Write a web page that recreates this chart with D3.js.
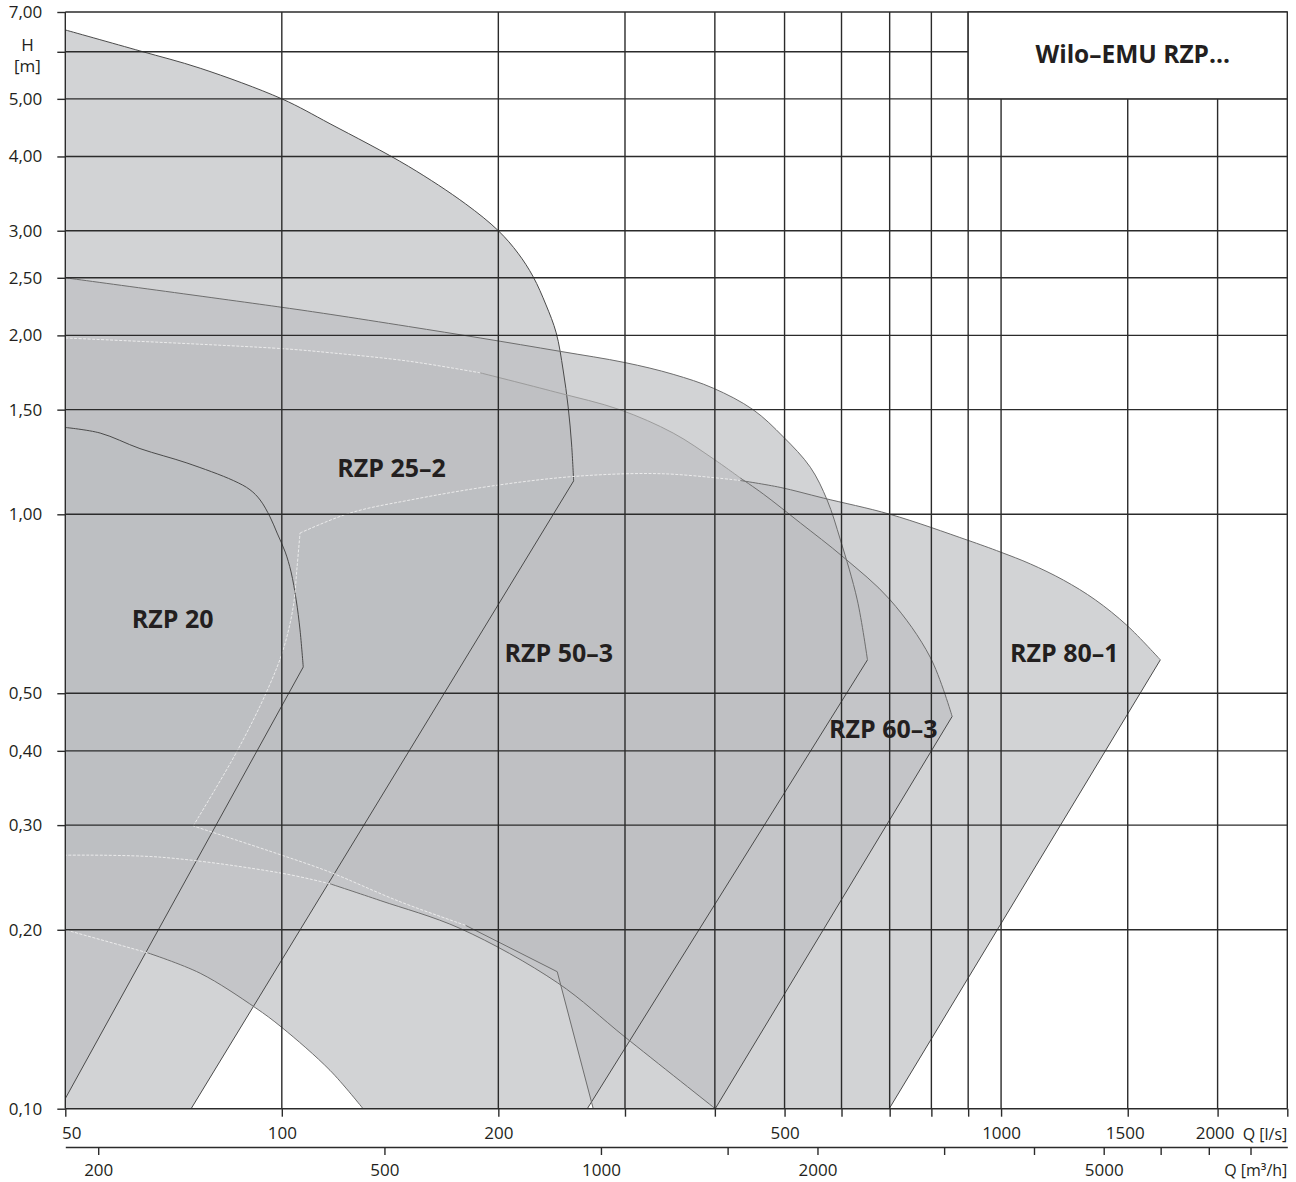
<!DOCTYPE html>
<html><head><meta charset="utf-8">
<script src="https://cdn.jsdelivr.net/npm/d3@7"></script>
<style>
body{margin:0;background:#fff}
svg text{font-family:"Open Sans",sans-serif;fill:#231f20}
</style>
</head><body>
<svg id="chart" width="1296" height="1182"></svg>
<script>
// ---------- data ----------
const qGrid = [50,100,200,300,400,500,600,700,800,900,1000,1500,2000,2500];
const qLabels = [50,100,200,500,1000,1500,2000];
const hGrid = [0.1,0.2,0.3,0.4,0.5,1.0,1.5,2.0,2.5,3.0,4.0,5.0,6.0,7.0];
const hLabels = [0.1,0.2,0.3,0.4,0.5,1.0,1.5,2.0,2.5,3.0,4.0,5.0,7.0];
const m3hTicks = [200,500,1000,1500,2000,3000,4000,5000,6000,7000,8000];
const m3hLabels = [200,500,1000,2000,5000];

// RZP 20  [Q l/s, H m]
const rzp20Top = [[50,1.40],[55.9,1.37],[63.5,1.29],[73.8,1.22],[85.6,1.14],[90.3,1.10],[93.3,1.057],[96.3,0.99],[98.5,0.93],[101.1,0.864],[103.0,0.800],[104.7,0.718],[106.0,0.639],[107.1,0.5535]];
const rzp20Right = [[107.1,0.5535],[50,0.104]];

// RZP 25-2
const rzp252Top = [[50,6.53],[63.5,6.02],[77,5.63],[100,5.0],[116.7,4.54],[150,3.85],[180,3.33],[200,3.0],[213,2.75],[223.6,2.51],[233,2.25],[240.7,2.02],[246.1,1.749],[250.1,1.516],[252.9,1.308],[254.5,1.138]];
const rzp252Right = [[254.5,1.138],[74.8,0.1]];
const rzp252Base = [[74.8,0.1],[50,0.1]];

// RZP 50-3
const rzp503Top = [[50,2.50],[100,2.23],[116.7,2.17],[150,2.07],[188.7,1.98],[243.8,1.88],[300,1.80],[350,1.72],[398,1.63],[452,1.50],[498,1.35],[543,1.20],[573,1.057],[598,0.905],[631,0.718],[652,0.569]];
const rzp503Right = [[652,0.569],[265.9,0.1]];
const rzp503Base = [[265.9,0.1],[129.7,0.1]];
const rzp503Bottom = [[129.7,0.1],[116.7,0.116],[100,0.137],[91.8,0.148],[77,0.169],[65,0.183],[50,0.200]];

// RZP 60-3
const rzp603Top = [[50,1.98],[100,1.90],[116.7,1.87],[150,1.81],[188.7,1.73],[240,1.606],[295,1.50],[350,1.37],[398,1.24],[434,1.151],[467,1.082],[526,0.967],[603,0.848],[701,0.718],[797,0.575],[855,0.457]];
const rzp603Right = [[855,0.457],[400.5,0.1]];
const rzp603Bottom = [[400.5,0.1],[300,0.132],[241.5,0.163],[177,0.201],[137,0.224],[116.7,0.239],[100,0.249],[67.7,0.265],[50,0.267]];

// RZP 80-1
const rzp801Top = [[106,0.93],[124.4,1.005],[150.8,1.057],[200,1.12],[260,1.16],[339,1.17],[434,1.14],[493,1.11],[566,1.065],[701,1.0],[897.5,0.905],[998,0.864],[1098.6,0.825],[1221,0.775],[1352,0.718],[1499,0.649],[1665,0.569]];
const rzp801Right = [[1665,0.569],[699,0.1]];
const rzp801Base = [[699,0.1],[271,0.1]];
const rzp801Steep = [[271,0.1],[241.5,0.170]];
const rzp801Bottom = [[241.5,0.170],[180,0.2035],[146,0.223],[116.7,0.250],[100,0.267],[75.3,0.299]];
const rzp801Left = [[75.3,0.299],[86.7,0.40],[95.4,0.505],[100.4,0.591],[103.7,0.698],[105,0.815],[106,0.93]];

const pumpNames = ["RZP 20","RZP 25–2","RZP 50–3","RZP 60–3","RZP 80–1"];
const pumpLabelQ = [70.5,142.1,242.7,686,1224.6];
const pumpLabelH = [0.669,1.199,0.5855,0.4371,0.5855];
const title = "Wilo–EMU RZP...";

// ---------- scales ----------
const L = 65.3, R = 1287.3, T = 12, B = 1108.7;
const x = d3.scaleLog().domain([50,2500]).range([L,R]);
const y = d3.scaleLog().domain([0.1,7]).range([B,T]);
const x2 = d3.scaleLog().domain([50*3.6,2500*3.6]).range([L,R]);

const svg = d3.select("#chart");
const gridColor = "#2b2b2b";

svg.append("defs").append("clipPath").attr("id","plot")
  .append("rect").attr("x",L).attr("y",T).attr("width",R-L).attr("height",B-T);

function pathFor(segments){
  let d = "";
  segments.forEach((seg,i)=>{
    const gen = d3.line().x(p=>x(p[0])).y(p=>y(p[1]))
      .curve(seg[1] ? d3.curveCatmullRom.alpha(0.5) : d3.curveLinear);
    let s = gen(seg[0]);
    if(i>0) s = "L" + s.slice(1);
    d += s;
  });
  return d;
}

const shapes = [
  [[rzp20Top,true],[rzp20Right,false]],
  [[rzp252Top,true],[rzp252Right,false],[rzp252Base,false]],
  [[rzp503Top,true],[rzp503Right,false],[rzp503Base,false],[rzp503Bottom,true]],
  [[rzp603Top,true],[rzp603Right,false],[rzp603Bottom,true]],
  [[rzp801Top,true],[rzp801Right,false],[rzp801Base,false],[rzp801Steep,false],[rzp801Bottom,true],[rzp801Left,true]]
];

const gFill = svg.append("g").attr("clip-path","url(#plot)");
shapes.forEach(s=>{
  gFill.append("path").attr("d",pathFor(s)+"Z")
    .attr("fill","rgb(189,190,193)").attr("fill-opacity",0.68).attr("stroke","none");
});

// outlines
const strokeStyles = {
  dark:{c:"#4a4a4a",w:1,dash:null,o:1},
  mid:{c:"#6e6e6e",w:1,dash:null,o:1},
  soft:{c:"#9c9c9c",w:1,dash:null,o:1},
  light:{c:"#f2f2f2",w:1,dash:"3,1.5",o:0.85}
};
const strokeEdges = [
  [rzp20Top,true,"dark"],[rzp20Right,false,"dark"],
  [rzp252Top,true,"dark"],[rzp252Right,false,"dark"],
  [rzp503Top,true,"mid"],[rzp503Right,false,"dark"],
  [rzp503Bottom.slice(0,6),true,"mid"],[rzp503Bottom.slice(5),true,"light"],
  [rzp603Top.slice(0,5),true,"light"],[rzp603Top.slice(4,10),true,"soft"],[rzp603Top.slice(9),true,"mid"],
  [rzp603Right,false,"dark"],
  [rzp603Bottom.slice(0,6),true,"mid"],[rzp603Bottom.slice(5),true,"light"],
  [rzp801Top.slice(0,7),true,"light"],[rzp801Top.slice(6),true,"mid"],
  [rzp801Right,false,"dark"],[rzp801Steep,false,"mid"],
  [rzp801Bottom.slice(0,2),true,"mid"],[rzp801Bottom.slice(1),true,"light"],
  [rzp801Left,true,"light"]
];
const gStroke = svg.append("g").attr("clip-path","url(#plot)").attr("fill","none");
strokeEdges.forEach(e=>{
  const st = strokeStyles[e[2]];
  const p = gStroke.append("path").attr("d",pathFor([[e[0],e[1]]]))
    .attr("stroke",st.c).attr("stroke-width",st.w).attr("stroke-opacity",st.o);
  if(st.dash) p.attr("stroke-dasharray",st.dash);
});

// grid
const gGrid = svg.append("g").attr("stroke",gridColor).attr("stroke-width",1.4);
qGrid.forEach(q=>{
  gGrid.append("line").attr("x1",x(q)).attr("x2",x(q)).attr("y1",T).attr("y2",B);
});
hGrid.forEach(h=>{
  gGrid.append("line").attr("x1",L).attr("x2",R).attr("y1",y(h)).attr("y2",y(h));
});

// title box
const bx0 = x(900), by1 = y(5);
svg.append("rect").attr("x",bx0).attr("y",T).attr("width",R-bx0).attr("height",by1-T)
  .attr("fill","#fff").attr("stroke",gridColor).attr("stroke-width",1.4);
svg.append("text").attr("x",(bx0+R)/2+5).attr("y",(T+by1)/2-2)
  .attr("text-anchor","middle").attr("dominant-baseline","central")
  .attr("font-size",24.5).attr("font-weight",700).text(title);

// y axis
const fmtH = d=> hLabels.includes(d) ? d3.format(".2f")(d).replace(".",",") : "";
const yAx = svg.append("g").attr("transform",`translate(${L},0)`)
  .call(d3.axisLeft(y).tickValues(hGrid).tickSize(8).tickPadding(15).tickFormat(fmtH));
yAx.select(".domain").remove();
yAx.selectAll("line").attr("stroke",gridColor).attr("stroke-width",1.4);
yAx.selectAll("text").attr("font-size",17).attr("fill","#231f20").style("font-family","'Open Sans',sans-serif");

svg.append("text").attr("x",27.5).attr("y",44).attr("text-anchor","middle").attr("dominant-baseline","central").attr("font-size",17).text("H");
svg.append("text").attr("x",27.5).attr("y",65).attr("text-anchor","middle").attr("dominant-baseline","central").attr("font-size",17).text("[m]");

// x axis l/s
const xAx = svg.append("g").attr("transform",`translate(0,${B})`)
  .call(d3.axisBottom(x).tickValues(qGrid).tickSize(8).tickPadding(10)
    .tickFormat(d=> qLabels.includes(d) ? String(d) : ""));
xAx.select(".domain").remove();
xAx.selectAll("line").attr("stroke",gridColor).attr("stroke-width",1.4);
xAx.selectAll("text").attr("font-size",17).attr("fill","#231f20").style("font-family","'Open Sans',sans-serif");
xAx.selectAll(".tick").filter(d=>d===50).select("text").attr("dx",6);
xAx.selectAll(".tick").filter(d=>d===1500||d===2000).select("text").attr("dx",-3);
svg.append("text").attr("x",R).attr("y",1134).attr("text-anchor","end").attr("dominant-baseline","central").attr("font-size",16).text("Q [l/s]");

// x axis m3/h
const x2Ax = svg.append("g").attr("transform",`translate(0,1147)`)
  .call(d3.axisBottom(x2).tickValues(m3hTicks).tickSize(8).tickSizeOuter(0).tickPadding(9)
    .tickFormat(d=> m3hLabels.includes(d) ? String(d) : ""));
x2Ax.select(".domain").attr("stroke",gridColor).attr("stroke-width",1.4);
x2Ax.selectAll("line").attr("stroke",gridColor).attr("stroke-width",1.4);
x2Ax.selectAll("text").attr("font-size",17).attr("fill","#231f20").style("font-family","'Open Sans',sans-serif");
svg.append("text").attr("x",R).attr("y",1170).attr("text-anchor","end").attr("dominant-baseline","central").attr("font-size",16).text("Q [m³/h]");

// pump labels
pumpNames.forEach((n,i)=>{
  svg.append("text").attr("x",x(pumpLabelQ[i])).attr("y",y(pumpLabelH[i]))
    .attr("text-anchor","middle").attr("dominant-baseline","central")
    .attr("font-size",25).attr("font-weight",700).text(n);
});
</script>
</body></html>
